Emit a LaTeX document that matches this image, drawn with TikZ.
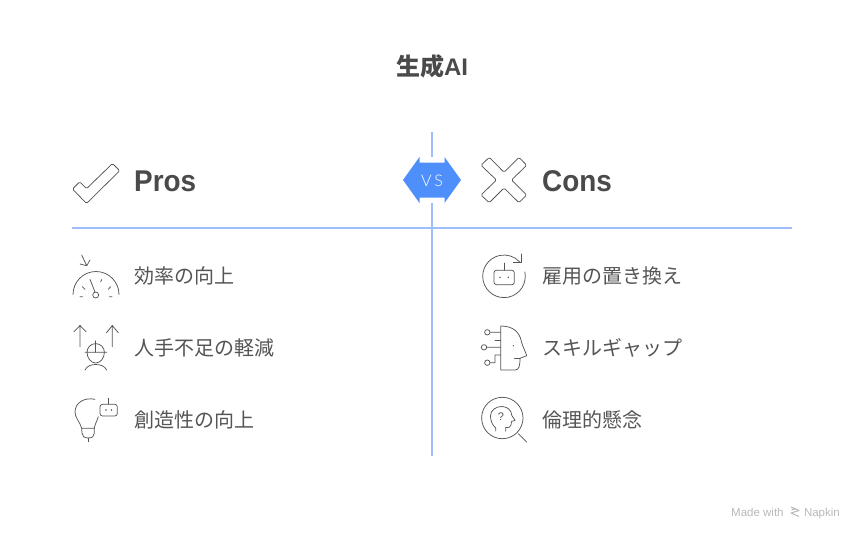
\documentclass[tikz,border=0pt]{standalone}
\usepackage{fontspec}
\setmainfont{Liberation Sans}
\newfontfamily\cjk{Noto Sans CJK JP}
\newfontfamily\headfont[FakeStretch=0.93]{Liberation Sans}
\newfontfamily\thinfont[UprightFont={* Light}]{Lato}
\usepackage{tikz}
\usetikzlibrary{positioning}
\definecolor{inkgrey}{HTML}{4A4A4A}
\definecolor{itemgrey}{HTML}{555555}
\definecolor{axisblue}{HTML}{9DBFFA}
\definecolor{vsblue}{HTML}{4F8FFB}
\tikzset
{
    titlenode/.style = {inner sep=0pt, text=inkgrey, font=\bfseries\fontsize{24}{24}\selectfont},
    headnode/.style  = {inner sep=0pt, anchor=base west, text=inkgrey, font=\headfont\bfseries\fontsize{30}{30}\selectfont},
    itemnode/.style  = {inner sep=0pt, anchor=west, text=itemgrey, font=\cjk\fontsize{20}{20}\selectfont},
    marknode/.style  = {inner sep=0pt, text=black!28, font=\fontsize{11.5}{11.5}\selectfont},
    axis/.style      = {draw=axisblue, line width=1.6pt},
    icon/.style      = {draw=itemgrey, line width=0.75pt, line cap=round, line join=round},
    dotmark/.style   = {fill=itemgrey, draw=none}
}
\begin{document}
\begin{tikzpicture}[x=1pt,y=-1pt]
\useasboundingbox (0,0) rectangle (864,541);
\node[titlenode] (title) at (432,66) {{\cjk 生成}AI};
% axes
\coordinate (vtop) at (432,132);
\coordinate (vup) at (432,157);
\coordinate (vdown) at (432,203);
\coordinate (vbottom) at (432,456);
\coordinate (hleft) at (72,228);
\coordinate (hright) at (792,228);
\draw[axis] (vtop) -- (vup);
\draw[axis] (vdown) -- (vbottom);
\draw[axis] (hleft) -- (hright);
% vs badge
\fill[vsblue] (403,180) -- (419.5,157) -- (419.5,162.5) -- (444.5,162.5) -- (444.5,157) -- (461,180) -- (444.5,203) -- (444.5,197.5) -- (419.5,197.5) -- (419.5,203) -- cycle;
\node[inner sep=0pt, text=white, font=\thinfont\fontsize{16}{16}\selectfont] (vs) at (432,180.5) {V\,S};
% headers
\draw[icon, rounded corners=1.5pt] (112.5,163.5) -- (119.7,170.7) -- (86.5,203.5) -- (72.5,189) -- (79.7,181.8) -- (86.5,188.7) -- cycle;
\node[headnode] (pros) at (134,191) {Pros};
\draw[icon, rounded corners=1.5pt] (489.3,157.3) -- (481,165.3) -- (496.5,180) -- (481,195) -- (489.3,202.7) -- (504,188) -- (519,202.7) -- (526.7,195) -- (511.5,180) -- (526.7,165.3) -- (519,157.3) -- (504,172.3) -- cycle;
\node[headnode] (cons) at (542,191) {Cons};
% left items
\node[itemnode] (speed) at (134,275.5) {効率の向上};
\node[itemnode] (labor) at (134,347.5) {人手不足の軽減};
\node[itemnode] (creative) at (134,419.5) {創造性の向上};
% right items
\node[itemnode] (replace) at (542,275.5) {雇用の置き換え};
\node[itemnode] (skill) at (542,347.5) {スキルギャップ};
\node[itemnode] (ethics) at (542,419.5) {倫理的懸念};
% gauge
\draw[icon] (73,294.5) arc[start angle=180, end angle=360, radius=23];
\draw[icon] (95.7,295) circle (3);
\draw[icon] (95,292) -- (90,279.3);
\draw[icon] (81.7,255) -- (86.7,265.7) (80,264) -- (86.7,265.7) -- (90,260);
\draw[icon] (82.3,286.7) -- (85,289.3) (100.7,281.7) -- (101.7,279.5) (108.3,289.3) -- (110.7,286.7) (80,296.7) -- (82.5,296.7) (109.5,296.7) -- (112,296.7);
% worker
\draw[icon] (80,346.7) -- (80,325.5) (74,331.7) -- (80,325.5) -- (86,331.7);
\draw[icon] (112.3,346.7) -- (112.3,325.5) (106.5,332.7) -- (112.3,325.5) -- (118.3,332.7);
\draw[icon] (85,352.3) -- (106.7,352.3) (87,352.3) arc[start angle=180, end angle=360, radius=8.7];
\draw[icon] (95.7,340.7) -- (95.7,352.3);
\draw[icon] (87,352.3) .. controls (87,358) and (91,363) .. (95.7,363) .. controls (100.4,363) and (104.4,358) .. (104.4,352.3);
\draw[icon] (85,370) .. controls (87,366) and (91,364.5) .. (95.7,364.5) .. controls (100.4,364.5) and (104.6,366) .. (106.7,370);
% bulb
\draw[icon] (95,399.3) .. controls (84,397) and (75,403) .. (75,412) .. controls (75,418) and (80,422) .. (81.7,428.3);
\draw[icon] (98.3,416.7) .. controls (97,421) and (95,424) .. (94.3,428.3) -- (81.7,428.3) -- (82,433) .. controls (82,436) and (84,438) .. (88.3,438) .. controls (92.5,438) and (94.3,436) .. (94.3,433) -- (94.3,428.3);
\draw[icon] (88.3,438) -- (88.3,441.7);
\draw[icon, rounded corners=2.5pt] (100,404.3) rectangle (117.3,416);
\draw[icon] (108.7,398.3) -- (108.7,404.3);
\fill[dotmark] (106,410) circle (0.8) (111.5,410) circle (0.8);
% robot swap
\draw[icon] (504,276.3) ++(-12:21.3) arc[start angle=-12, end angle=318, radius=21.3];
\draw[icon] (513.3,262) -- (521.7,262) -- (521.7,254);
\draw[icon, rounded corners=2.5pt] (494,270.3) rectangle (514.3,284.7);
\draw[icon] (504,263) -- (504,270.3);
\fill[dotmark] (500,277.3) circle (0.8) (508.3,277.3) circle (0.8);
% head
\draw[icon] (500.7,326) -- (500.7,370) -- (515,370) .. controls (519,370) and (520,366) .. (520,358.3) -- (526.7,355.7) .. controls (524,348) and (522,345) .. (521,340) .. controls (519,332) and (513,326) .. (500.7,326);
\draw[icon] (514.5,358.3) -- (520,358.3);
\fill[dotmark] (513.3,345.7) circle (0.7);
\draw[icon] (487.3,332.3) circle (2.7) (490,332.3) -- (500.7,332.3);
\draw[icon] (495,340) -- (500.7,340);
\draw[icon] (484,347.3) circle (2.7) (486.7,347.3) -- (500.7,347.3);
\draw[icon] (487.3,362.7) circle (2.7) (490,362.7) -- (495,362.7) -- (495,355) -- (500.7,355);
% ethics
\draw[icon] (502.3,418) circle (20.7);
\draw[icon] (518.3,433.7) -- (526.7,442);
\draw[icon] (495.7,431) -- (495.7,428) .. controls (492,425) and (490.5,420) .. (490.5,416) .. controls (490.5,410) and (496,406.5) .. (501.7,406.5) .. controls (507.5,406.5) and (511.7,410.5) .. (511.7,415.3) -- (515,420.3) -- (511.5,421.5) -- (511,425) .. controls (510.5,427.5) and (509,427.5) .. (505.7,427.5) -- (505.7,431.3);
\node[inner sep=0pt, text=itemgrey, font=\fontsize{11}{11}\selectfont] (ask) at (501,416.5) {?};
% watermark
\node[marknode, anchor=base west] (made) at (731,516) {Made with};
\node[marknode, anchor=base east] (napkin) at (840,516) {Napkin};
\draw[black!28, line width=1pt, line join=round] (791,507) -- (799,510.5) -- (791,513) -- (799,516.5) (791.5,510) -- (796,508.5);
\end{tikzpicture}
\end{document}
